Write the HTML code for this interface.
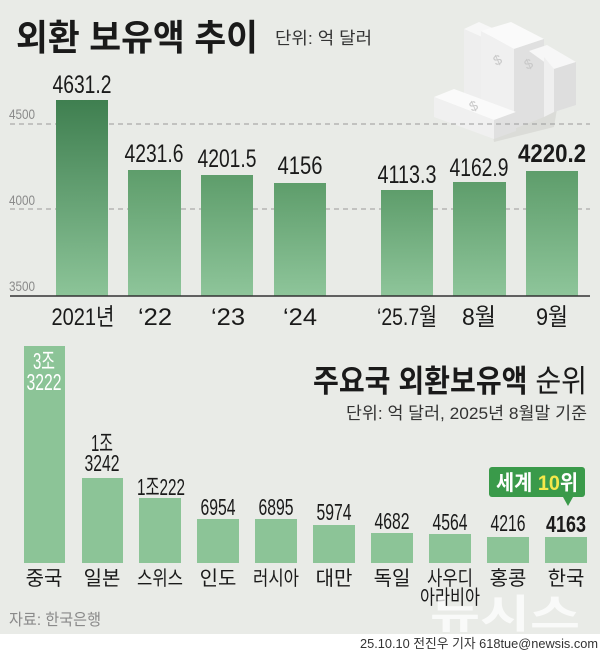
<!DOCTYPE html>
<html><head><meta charset="utf-8"><style>
html,body{margin:0;padding:0;}
body{width:600px;height:651px;overflow:hidden;background:#fff;}
svg{display:block;font-family:"Liberation Sans","Noto Sans CJK KR",sans-serif;}
</style></head><body>
<svg width="600" height="651" viewBox="0 0 600 651" xmlns="http://www.w3.org/2000/svg">
<defs>
<linearGradient id="g1" x1="0" y1="0" x2="0" y2="1"><stop offset="0" stop-color="#3f7f50"/><stop offset="1" stop-color="#8cc498"/></linearGradient>
<linearGradient id="g2" x1="0" y1="0" x2="0" y2="1"><stop offset="0" stop-color="#5e9d6b"/><stop offset="1" stop-color="#8ec59a"/></linearGradient>
</defs>
<rect x="0" y="0" width="600" height="634" fill="#e9ebe7"/>
<rect x="0" y="634" width="600" height="17" fill="#fff"/>

<text x="16" y="50" font-size="36" font-weight="bold" fill="#1a1a1a" textLength="242" lengthAdjust="spacingAndGlyphs">외환 보유액 추이</text>
<text x="275" y="44" font-size="17" fill="#333" textLength="97" lengthAdjust="spacingAndGlyphs">단위: 억 달러</text>

<g transform="translate(-6,17)">
<polygon points="490,60 565,80 560,110 500,125" fill="#d4d6d2" opacity="0.7"/>
<polygon points="470,12 485,5 505,14 490,21" fill="#f7f7f7"/>
<polygon points="470,12 490,21 490,90 470,82" fill="#eeeeee"/>
<polygon points="490,21 505,14 505,85 490,90" fill="#e2e2e2"/>
<polygon points="487,14 517,5 550,22 520,32" fill="#fafafa"/>
<polygon points="487,14 520,32 520,112 487,98" fill="#f0f0f0"/>
<polygon points="520,32 550,22 550,100 520,112" fill="#e0e0e0"/>
<polygon points="535,34 553,28 582,45 560,52" fill="#f7f7f7"/>
<polygon points="550,40 560,52 560,95 550,100" fill="#efefef"/>
<polygon points="560,52 582,45 582,88 560,95" fill="#dedede"/>
<polygon points="440,80 460,72 522,95 500,103" fill="#fafafa"/>
<polygon points="440,80 500,103 500,122 440,100" fill="#f0f0f0"/>
<polygon points="500,103 522,95 522,114 500,122" fill="#e0e0e0"/>
<text x="502" y="49" font-size="14" fill="#c8c8c8" transform="rotate(-25 502 49)">$</text>
<text x="533" y="53" font-size="14" fill="#c8c8c8" transform="rotate(-25 533 53)">$</text>
<text x="478" y="95" font-size="14" fill="#c8c8c8" transform="rotate(-25 478 95)">$</text>
</g>

<line x1="10" y1="124" x2="590" y2="124" stroke="#9a9a9a" stroke-dasharray="5,4" stroke-width="1"/>
<line x1="10" y1="209" x2="590" y2="209" stroke="#9a9a9a" stroke-dasharray="5,4" stroke-width="1"/>
<g font-size="14" fill="#8a8a8a">
<text x="9" y="119" textLength="26" lengthAdjust="spacingAndGlyphs">4500</text>
<text x="9" y="205" textLength="26" lengthAdjust="spacingAndGlyphs">4000</text>
<text x="9" y="291" textLength="26" lengthAdjust="spacingAndGlyphs">3500</text>
</g>

<rect x="56" y="100" width="52" height="196" fill="url(#g1)"/>
<rect x="128" y="170" width="53" height="126" fill="url(#g2)"/>
<rect x="201" y="175" width="52" height="121" fill="url(#g2)"/>
<rect x="274" y="183" width="52" height="113" fill="url(#g2)"/>
<rect x="381" y="190" width="52" height="106" fill="url(#g2)"/>
<rect x="453" y="182" width="53" height="114" fill="url(#g2)"/>
<rect x="526" y="171" width="52" height="125" fill="url(#g2)"/>
<line x1="10" y1="296" x2="590" y2="296" stroke="#333" stroke-width="1.5"/>

<g font-size="25" fill="#1a1a1a" text-anchor="middle">
<text x="82" y="93" textLength="59" lengthAdjust="spacingAndGlyphs">4631.2</text>
<text x="154" y="162" textLength="59" lengthAdjust="spacingAndGlyphs">4231.6</text>
<text x="227" y="167" textLength="59" lengthAdjust="spacingAndGlyphs">4201.5</text>
<text x="300" y="174" textLength="45" lengthAdjust="spacingAndGlyphs">4156</text>
<text x="407" y="183" textLength="59" lengthAdjust="spacingAndGlyphs">4113.3</text>
<text x="479" y="176" textLength="59" lengthAdjust="spacingAndGlyphs">4162.9</text>
<text x="552" y="162" font-weight="bold" textLength="68" lengthAdjust="spacingAndGlyphs">4220.2</text>
</g>
<g font-size="24" fill="#1a1a1a" text-anchor="middle">
<text x="83" y="325" textLength="63" lengthAdjust="spacingAndGlyphs">2021년</text>
<text x="155" y="325" textLength="34" lengthAdjust="spacingAndGlyphs">‘22</text>
<text x="228" y="325" textLength="34" lengthAdjust="spacingAndGlyphs">‘23</text>
<text x="300" y="325" textLength="34" lengthAdjust="spacingAndGlyphs">‘24</text>
<text x="407" y="325" textLength="60" lengthAdjust="spacingAndGlyphs">‘25.7월</text>
<text x="479" y="325" textLength="34" lengthAdjust="spacingAndGlyphs">8월</text>
<text x="552" y="325" textLength="32" lengthAdjust="spacingAndGlyphs">9월</text>
</g>

<text x="587" y="392" text-anchor="end" font-size="31" fill="#1a1a1a" textLength="274" lengthAdjust="spacingAndGlyphs"><tspan font-weight="bold">주요국 외환보유액</tspan> 순위</text>
<text x="587" y="419" text-anchor="end" font-size="17" fill="#333" textLength="241" lengthAdjust="spacingAndGlyphs">단위: 억 달러, 2025년 8월말 기준</text>

<g fill="#8cc497">
<rect x="24" y="346" width="41" height="217"/>
<rect x="82" y="478" width="41" height="85"/>
<rect x="139" y="498" width="42" height="65"/>
<rect x="197" y="519" width="42" height="44"/>
<rect x="255" y="519" width="42" height="44"/>
<rect x="313" y="525" width="42" height="38"/>
<rect x="371" y="533" width="42" height="30"/>
<rect x="429" y="534" width="42" height="29"/>
<rect x="487" y="537" width="42" height="26"/>
<rect x="545" y="537" width="42" height="26"/>
</g>
<g font-size="23" text-anchor="middle" fill="#1a1a1a">
<text x="44" y="369" fill="#fff" textLength="22" lengthAdjust="spacingAndGlyphs">3조</text>
<text x="44" y="390" fill="#fff" textLength="35" lengthAdjust="spacingAndGlyphs">3222</text>
<text x="102" y="451" textLength="22" lengthAdjust="spacingAndGlyphs">1조</text>
<text x="102" y="471" textLength="35" lengthAdjust="spacingAndGlyphs">3242</text>
<text x="161" y="495" textLength="48" lengthAdjust="spacingAndGlyphs">1조222</text>
<text x="218" y="515" textLength="35" lengthAdjust="spacingAndGlyphs">6954</text>
<text x="276" y="515" textLength="35" lengthAdjust="spacingAndGlyphs">6895</text>
<text x="334" y="520" textLength="35" lengthAdjust="spacingAndGlyphs">5974</text>
<text x="392" y="529" textLength="35" lengthAdjust="spacingAndGlyphs">4682</text>
<text x="450" y="530" textLength="35" lengthAdjust="spacingAndGlyphs">4564</text>
<text x="508" y="531" textLength="35" lengthAdjust="spacingAndGlyphs">4216</text>
<text x="566" y="532" font-weight="bold" textLength="40" lengthAdjust="spacingAndGlyphs">4163</text>
</g>
<rect x="489" y="467" width="96" height="30" rx="3" fill="#3a9a4a"/>
<polygon points="563,497 573,497 568,506" fill="#3a9a4a"/>
<text x="537" y="490" text-anchor="middle" font-size="21" font-weight="bold" fill="#fff" textLength="82" lengthAdjust="spacingAndGlyphs">세계 <tspan fill="#f5e84a">10</tspan>위</text>

<g font-size="20" text-anchor="middle" fill="#1a1a1a">
<text x="44" y="585">중국</text>
<text x="102" y="585">일본</text>
<text x="160" y="585" textLength="46" lengthAdjust="spacingAndGlyphs">스위스</text>
<text x="218" y="585">인도</text>
<text x="276" y="585" textLength="46" lengthAdjust="spacingAndGlyphs">러시아</text>
<text x="334" y="585">대만</text>
<text x="392" y="585">독일</text>
<text x="450" y="585" textLength="46" lengthAdjust="spacingAndGlyphs">사우디</text>
<text x="450" y="604" textLength="60" lengthAdjust="spacingAndGlyphs">아라비아</text>
<text x="508" y="585">홍콩</text>
<text x="566" y="585">한국</text>
</g>
<text x="430" y="628" font-size="40" font-weight="bold" fill="#fff" opacity="0.75" textLength="150" lengthAdjust="spacingAndGlyphs">뉴시스</text>
<text x="9" y="625" font-size="16" fill="#8a8a8a" textLength="92" lengthAdjust="spacingAndGlyphs">자료: 한국은행</text>
<text x="598" y="648" text-anchor="end" font-size="13" fill="#333" textLength="238" lengthAdjust="spacingAndGlyphs">25.10.10 전진우 기자 618tue@newsis.com</text>
</svg>
</body></html>
